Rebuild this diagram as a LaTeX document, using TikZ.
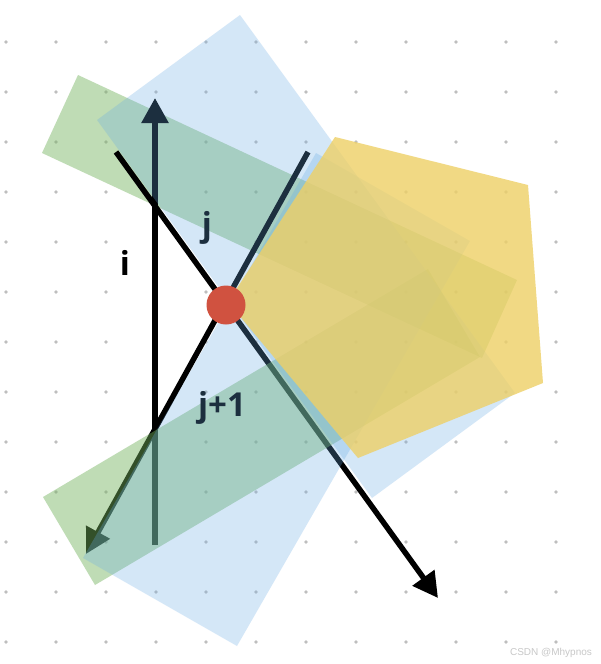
\documentclass[tikz,border=0pt]{standalone}
\usepackage{fontspec}
\newfontfamily\labelfont{Open Sans}
\newfontfamily\markfont{Liberation Sans}
\usetikzlibrary{arrows.meta}
\definecolor{dotGray}{RGB}{190,190,190}
\definecolor{paneBlue}{RGB}{104,171,229}
\definecolor{paneGreen}{RGB}{115,178,93}
\definecolor{paneYellow}{RGB}{238,208,102}
\definecolor{hitRed}{RGB}{208,82,64}
\definecolor{markGray}{RGB}{200,200,200}
\tikzset{
  vec/.style={line width=5.5pt, -{Triangle[length=25pt,width=26pt]}},
  pane/.style={draw=none, fill opacity=#1},
  lbl/.style={anchor=base, inner sep=0pt, font=\labelfont\bfseries\fontsize{33}{33}\selectfont},
  hit/.style={circle, fill=hitRed, minimum size=39pt, inner sep=0pt},
}

\begin{document}
\begin{tikzpicture}[x=1pt, y=-1pt]
  \fill[white] (0,0) rectangle (600,664);
  \useasboundingbox (0,0) rectangle (600,664);
  \foreach \c in {0,...,11}
    \foreach \r in {0,...,12}
      \fill[dotGray] (6+50*\c, 42+50*\r) circle (1.9pt);

  \fill[paneGreen, pane=0.45] (78,75) -- (517,280) -- (482,358) -- (42,153) -- cycle;

  \coordinate (iTail) at (155,545);
  \coordinate (iTip) at (155,98);
  \coordinate (jTail) at (116,152);
  \coordinate (jTip) at (438,598);
  \coordinate (kTail) at (308,152);
  \coordinate (kTip) at (86,554);
  \draw[vec] (iTail) -- (iTip);
  \draw[vec] (jTail) -- (jTip);
  \draw[vec] (kTail) -- (kTip);

  \fill[paneGreen, pane=0.45] (43,497) -- (428,269) -- (480,357) -- (95,585) -- cycle;

  \node[lbl] (iLbl) at (125,275) {i};
  \node[lbl] (jLbl) at (207,236) {j};
  \node[lbl] (kLbl) at (222,416) {j+1};

  \fill[paneBlue, pane=0.28] (97,120) -- (240,15) -- (515,393) -- (372,498) -- cycle;
  \fill[paneBlue, pane=0.28] (83,558) -- (316,153) -- (470,241) -- (237,646) -- cycle;
  \fill[paneYellow, pane=0.8] (335,137) -- (528,185) -- (543,383) -- (358,458) -- (228,302) -- cycle;

  \node[hit] (cross) at (226,305) {};
  \node[font=\markfont\fontsize{10}{10}\selectfont, text=markGray] (mark) at (551,653) {CSDN @Mhypnos};
\end{tikzpicture}
\end{document}
